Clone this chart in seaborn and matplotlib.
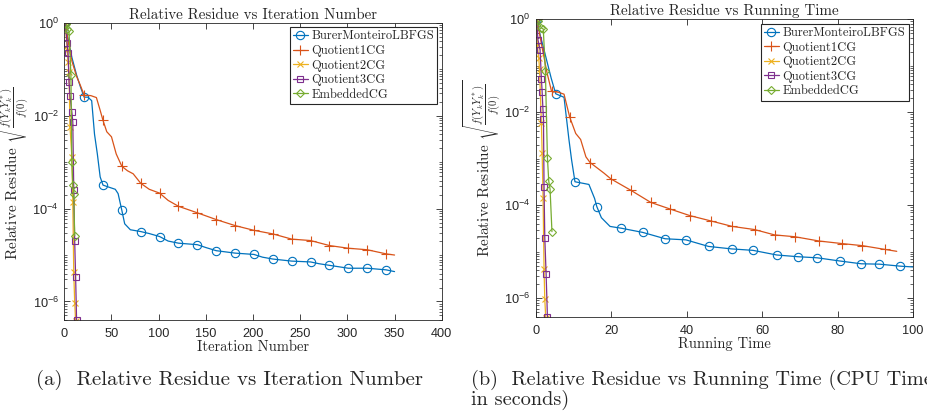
import numpy as np
import pandas as pd
import matplotlib
matplotlib.use("Agg")
import matplotlib.pyplot as plt
import matplotlib.ticker as mticker
import seaborn as sns

# ---- panel (a): residue vs iteration number ----
bm_it_x = [1, 4, 8, 13, 17, 21, 25, 29, 32, 35, 38, 41, 47, 54, 57, 61, 64, 70, 81, 90,
           101, 110, 121, 141, 150, 161, 181, 201, 210, 221, 241, 261, 270, 281, 301, 321, 341, 350]
bm_it_y = [1.0, 0.45, 0.18, 0.075, 0.042, 0.025, 0.025, 0.021, 4e-3, 1.5e-3, 4.8e-4, 3.2e-4,
           2.9e-4, 2.6e-4, 2.1e-4, 9.1e-5, 4.7e-5, 3.5e-5, 3.2e-5, 2.9e-5, 2.5e-5, 2.0e-5,
           1.8e-5, 1.67e-5, 1.45e-5, 1.24e-5, 1.1e-5, 1.03e-5, 9.0e-6, 8.2e-6, 7.4e-6, 7.1e-6,
           6.5e-6, 6.0e-6, 5.2e-6, 5.2e-6, 4.8e-6, 4.4e-6]
bm_it_marks = [1, 21, 41, 61, 81, 101, 121, 141, 161, 181, 201, 221, 241, 261, 281, 301, 321, 341]

q1_it_x = [1, 4, 8, 13, 17, 21, 28, 34, 38, 41, 45, 50, 55, 61, 67, 73, 81, 90, 101, 110,
           121, 141, 161, 181, 201, 221, 241, 261, 281, 301, 321, 341, 350]
q1_it_y = [1.0, 0.4, 0.15, 0.07, 0.045, 0.0275, 0.027, 0.0245, 0.013, 7.9e-3, 4.5e-3, 3.5e-3,
           1.5e-3, 8.1e-4, 6.5e-4, 5.6e-4, 3.5e-4, 2.6e-4, 2.15e-4, 1.5e-4, 1.12e-4, 8.1e-5,
           5.8e-5, 4.3e-5, 3.4e-5, 2.85e-5, 2.2e-5, 2.05e-5, 1.6e-5, 1.4e-5, 1.3e-5, 1.06e-5, 1.0e-5]
q1_it_marks = bm_it_marks

q2_it_x = [1, 3, 4, 5, 6, 8, 9, 10, 11, 12]
q2_y = [1.0, 0.26, 0.145, 0.087, 5.8e-3, 1.3e-3, 1.4e-4, 4.3e-6, 9.5e-7, 3.8e-7]

q3_it_x = [1, 3, 4, 5, 6, 8, 9, 10, 11, 12, 13]
q3_y = [1.0, 0.36, 0.22, 0.053, 0.027, 0.012, 7.3e-3, 2.5e-4, 2.0e-5, 3.3e-6, 4e-7]

emb_it_x = [1, 2, 3, 5, 7, 8, 9, 10, 11]
emb_it_y = [1.0, 0.93, 0.75, 0.65, 0.074, 1.0e-3, 3.2e-4, 2.1e-4, 2.6e-5]

# ---- panel (b): residue vs running time ----
bm_t_x = [0.3, 1.2, 2.2, 4.1, 5.3, 7.5, 8.8, 9.5, 10.4, 14.1, 15.6, 16.2, 17.4, 19.7, 22.7,
          28.4, 34.3, 39.8, 45.8, 51.9, 57.6, 63.9, 69.6, 74.6, 80.7, 86.3, 91.1, 96.5, 100]
bm_t_y = [1.0, 0.45, 0.22, 0.054, 0.025, 0.021, 2.6e-3, 9.5e-4, 3.2e-4, 2.8e-4, 1.4e-4, 9.3e-5,
          5.4e-5, 3.5e-5, 3.2e-5, 2.6e-5, 1.9e-5, 1.8e-5, 1.3e-5, 1.15e-5, 1.07e-5, 8.5e-6,
          7.8e-6, 7.4e-6, 6.3e-6, 5.5e-6, 5.4e-6, 4.9e-6, 4.7e-6]
bm_t_marks = [0.3, 5.3, 10.4, 16.2, 22.7, 28.4, 34.3, 39.8, 45.8, 51.9, 57.6, 63.9, 69.6,
              74.6, 80.7, 86.3, 91.1, 96.5]

q1_t_x = [0.3, 1.5, 3.0, 4.2, 6.0, 7.5, 9.0, 10.6, 11.9, 13.3, 14.4, 18.1, 19.9, 25.2, 30.5,
          35.6, 40.8, 46.4, 52.1, 58.0, 63.3, 68.7, 75.1, 81.1, 86.6, 92.6, 95.7]
q1_t_y = [1.0, 0.3, 0.07, 0.028, 0.027, 0.0245, 7.9e-3, 3.5e-3, 2.6e-3, 1.1e-3, 8.3e-4, 4.9e-4,
          3.7e-4, 2.1e-4, 1.15e-4, 8.3e-5, 6.0e-5, 4.6e-5, 3.5e-5, 3.0e-5, 2.3e-5, 2.1e-5,
          1.7e-5, 1.5e-5, 1.35e-5, 1.12e-5, 1.02e-5]
q1_t_marks = [0.3, 4.2, 9.0, 14.4, 19.9, 25.2, 30.5, 35.6, 40.8, 46.4, 52.1, 58.0, 63.3,
              68.7, 75.1, 81.1, 86.6, 92.6]

q2_t_x = [0.2, 0.45, 0.8, 1.0, 1.5, 1.7, 1.95, 2.2, 2.4, 2.65]
q3_t_x = [0.2, 0.6, 1.15, 1.5, 1.7, 1.9, 2.05, 2.2, 2.4, 2.75, 3.1]
emb_t_x = [0.27, 0.6, 1.5, 2.0, 2.56, 3.1, 3.45, 3.8, 4.3]
emb_t_y = [1.0, 0.93, 0.65, 0.62, 0.076, 1.05e-3, 3.3e-4, 2.2e-4, 2.7e-5]

names = ["BurerMonteiroLBFGS", "Quotient1CG", "Quotient2CG", "Quotient3CG", "EmbeddedCG"]
colors = ["#0072BD", "#D95319", "#EDB120", "#7E2F8E", "#77AC30"]
markers = ["o", "+", "x", "s", "D"]
msizes = [6, 7, 4.5, 4.5, 4.5]

sns.set_style("ticks")
plt.rcParams["font.family"] = ["Liberation Sans", "DejaVu Sans"]
plt.rcParams["mathtext.fontset"] = "cm"
plt.rcParams["axes.unicode_minus"] = False
serif = "cmr10"


def draw(ax, series, xmax, xstep, xlabel, title):
    for i, (xs, ys, marks) in enumerate(series):
        df = pd.DataFrame({"x": xs, "y": ys})
        every = [k for k, v in enumerate(xs) if marks is None or v in marks]
        sns.lineplot(data=df, x="x", y="y", ax=ax, color=colors[i], label=names[i],
                     marker=markers[i], markevery=every, markersize=msizes[i],
                     markerfacecolor="none", markeredgecolor=colors[i],
                     markeredgewidth=0.8, linewidth=0.9, sort=False, errorbar=None)
    ax.set_yscale("log")
    ax.set_ylim(4e-7, 1.0)
    ax.set_xlim(0, xmax)
    ax.set_xticks(np.arange(0, xmax + 1, xstep))
    ax.yaxis.set_major_locator(mticker.FixedLocator([1e-6, 1e-4, 1e-2, 1]))
    ax.yaxis.set_minor_locator(mticker.LogLocator(base=10, subs=np.arange(1, 10), numticks=30))
    ax.yaxis.set_minor_formatter(mticker.NullFormatter())
    ax.tick_params(which="both", direction="in", top=True, right=True, labelsize=9.2,
                   color="#262626", labelcolor="#262626")
    ax.tick_params(axis="x", pad=6)
    ax.tick_params(axis="y", pad=4)
    ax.tick_params(which="major", length=4, width=0.6)
    ax.tick_params(which="minor", length=2, width=0.5)
    for sp in ax.spines.values():
        sp.set_linewidth(0.6)
        sp.set_color("#262626")
    ax.set_xlabel(xlabel, fontfamily=serif, fontsize=10.5, labelpad=0, color="#262626")
    ax.set_ylabel(r"Relative Residue $\sqrt{\frac{f(Y_kY_k^*)}{f(0)}}$", fontfamily=serif,
                  fontsize=11, color="#262626")
    ax.yaxis.set_label_coords(-0.085, 0.5)
    ax.set_title(title, fontfamily=serif, fontsize=10.8, pad=3)
    leg = ax.legend(loc="upper right", fancybox=False, framealpha=1, edgecolor="#262626",
                    prop={"family": serif, "size": 9}, handlelength=1.2,
                    handletextpad=0.3, labelspacing=0.2, borderpad=0.25, borderaxespad=0.35)
    leg.get_frame().set_linewidth(0.8)


fig = plt.figure(figsize=(9.28, 4.16), dpi=100)
ax1 = fig.add_axes([0.0693, 0.2308, 0.4067, 0.7146])
ax2 = fig.add_axes([0.5773, 0.2387, 0.4065, 0.7149])

draw(ax1, [(bm_it_x, bm_it_y, bm_it_marks), (q1_it_x, q1_it_y, q1_it_marks),
           (q2_it_x, q2_y, None), (q3_it_x, q3_y, None), (emb_it_x, emb_it_y, None)],
     400, 50, "Iteration Number", "Relative Residue vs Iteration Number")
draw(ax2, [(bm_t_x, bm_t_y, bm_t_marks), (q1_t_x, q1_t_y, q1_t_marks),
           (q2_t_x, q2_y, None), (q3_t_x, q3_y, None), (emb_t_x, emb_t_y, None)],
     100, 20, "Running Time", "Relative Residue vs Running Time")

fig.text(36 / 928, 1 - 380 / 416, "(a)  Relative Residue vs Iteration Number",
         fontfamily=serif, fontsize=15, va="center", ha="left")
fig.text(471 / 928, 1 - 390 / 416, "(b)  Relative Residue vs Running Time (CPU Time\nin seconds)",
         fontfamily=serif, fontsize=14.6, va="center", ha="left", linespacing=0.95)

fig.savefig("out.png", dpi=100)
